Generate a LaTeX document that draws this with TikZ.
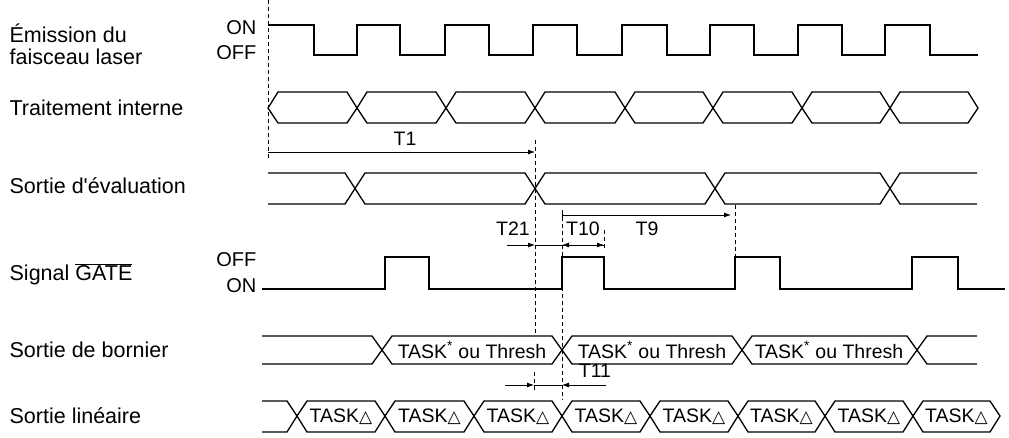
\documentclass[tikz,border=0pt]{standalone}
\usepackage{fontspec}
\setmainfont{Liberation Sans}
\newfontfamily\djv{DejaVu Sans}
\usetikzlibrary{arrows.meta}
\begin{document}
\begin{tikzpicture}[x=1pt,y=-1pt,line width=1.3pt,
  lbl/.style={font=\fontsize{21.5}{22}\selectfont,anchor=west,align=left,inner sep=0pt},
  lv/.style={font=\fontsize{20}{22}\selectfont,anchor=east,inner sep=0pt},
  tl/.style={font=\fontsize{19.5}{22}\selectfont},
  dsh/.style={line width=0.8pt,dashed,dash pattern=on 4pt off 3pt},
  dim/.style={line width=0.8pt,-{Latex[length=7pt,width=5pt]}}]
\useasboundingbox (0,0) rectangle (1009,437);
\newcommand{\seg}[5]{\draw (#1,#4)--(#1+10,#3)--(#2-10,#3)--(#2,#4)--(#2-10,#5)--(#1+10,#5)--cycle;}
% labels
\node[lbl] at (9,44) {Émission du\\faisceau laser};
\node[lbl] at (9,108) {Traitement interne};
\node[lbl] at (9,186) {Sortie d\textquotesingle évaluation};
\node[lbl] at (9,274) {Signal $\overline{\hbox{GATE}}$};
\node[lbl] at (9,350) {Sortie de bornier};
\node[lbl] at (9,416) {Sortie linéaire};
\node[lv] at (257,28) {ON};
\node[lv] at (257,53) {OFF};
\node[lv] at (257,260) {OFF};
\node[lv] at (257,286) {ON};
% laser
\draw (268,25)--(314,25)--(314,55)--(357,55)--(357,25)--(400,25)--(400,55)--(445,55)--(445,25)--(489,25)--(489,55)--(533,55)--(533,25)--(577,25)--(577,55)--(622,55)--(622,25)--(667,25)--(667,55)--(710,55)--(710,25)--(754,25)--(754,55)--(798,55)--(798,25)--(842,25)--(842,55)--(885,55)--(885,25)--(930,25)--(930,55)--(978,55);
% traitement
\foreach \a/\b in {268/357,357/446,446/535,535/625,625/713,713/802,802/890,890/978}{\seg{\a}{\b}{92}{108}{123}}
% evaluation
\draw (268,173)--(345,173)--(365,204)--(525,204)--(545,173)--(705,173)--(725,204)--(880,204)--(900,173)--(977,173);
\draw (268,204)--(345,204)--(365,173)--(525,173)--(545,204)--(705,204)--(725,173)--(880,173)--(900,204)--(977,204);
% gate
\draw (262,289)--(385,289)--(385,257)--(429,257)--(429,289)--(562,289)--(562,257)--(604,257)--(604,289)--(735,289)--(735,257)--(780,257)--(780,289)--(912,289)--(912,257)--(958,257)--(958,289)--(1005,289);
% bornier
\draw (262,336)--(372,336)--(382,350)--(372,364)--(262,364);
\seg{382}{562}{336}{350}{364}
\seg{562}{742}{336}{350}{364}
\seg{742}{917}{336}{350}{364}
\draw (977,336)--(927,336)--(917,350)--(927,364)--(977,364);
\foreach \c in {472,652,829}{\node[tl] at (\c,350) {TASK\textsuperscript{*} ou Thresh};}
% lineaire
\draw (262,401)--(287,401)--(297,416)--(287,432)--(262,432);
\foreach \a/\b in {297/385,385/474,474/562,562/650,650/738,738/825,825/913,913/1000}{\seg{\a}{\b}{401}{416}{432}\node[tl] at ({(\a+\b)/2},417) {TASK{\djv\fontsize{17}{18}\selectfont △}};}
% dashed
\draw[dsh] (268,0)--(268,160);
\draw[dsh] (535,140)--(535,335);
\draw[dsh] (534,372)--(534,390);
\draw[dsh] (562,210)--(562,400);
\draw[dsh] (735,205)--(735,258);
\draw[dsh] (604,230)--(604,250);
% dims
\coordinate (t1a) at (268,152); \coordinate (t1b) at (535,152);
\draw[dim] (t1a)--(t1b); \node[tl] at (405,139) {T1};
\coordinate (t9a) at (562,215); \coordinate (t9b) at (731,215);
\draw[dim] (t9a)--(t9b); \node[tl] at (647,229) {T9};
\draw[line width=0.8pt] (562,210)--(562,220);
\coordinate (t21a) at (507,245); \coordinate (t21b) at (535,245);
\draw[dim] (t21a)--(t21b); \node[tl] at (513,229) {T21};
\coordinate (t10a) at (535,245); \coordinate (t10b) at (562,245);
\draw[line width=0.8pt] (t10a)--(t10b);
\coordinate (t10c) at (604,245);
\draw[dim] (t10b)--(t10c); \node[tl] at (583,229) {T10};
\draw[dim] (604,245)--(562,245);
\coordinate (t11a) at (505,385); \coordinate (t11b) at (534,385);
\draw[dim] (t11a)--(t11b);
\coordinate (t11c) at (606,385); \coordinate (t11d) at (562,385);
\draw[dim] (t11c)--(t11d); \draw[line width=0.8pt] (t11b)--(t11d);
\node[tl] at (595,371) {T11};
\end{tikzpicture}
\end{document}
